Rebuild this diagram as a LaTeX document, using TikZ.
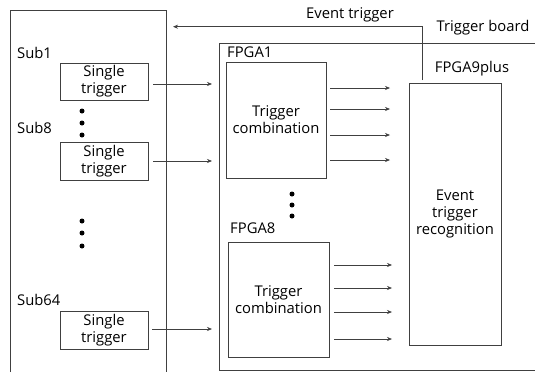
\documentclass[tikz,border=0pt]{standalone}
\usepackage{fontspec}
\setmainfont{Open Sans}
\usetikzlibrary{arrows.meta}
\begin{document}
\begin{tikzpicture}[x=1pt,y=-1pt,
  line/.style={draw=black!75, line width=0.8pt},
  box/.style={line, rectangle, inner sep=0pt, align=center, font=\fontsize{14.8}{17}\selectfont},
  lbl/.style={inner sep=0pt, font=\fontsize{14.8}{17}\selectfont},
  arr/.style={draw=black!75, line width=0.6pt, -{Stealth[length=5pt,width=4pt]}},
  dot/.style={circle, fill=black, inner sep=0pt, minimum size=5pt}]
\useasboundingbox (0,0) rectangle (535,372);
% outer frames
\draw[line] (10,372) -- (10,10) -- (166,10) -- (166,372);
\draw[line] (535,43) -- (219,43) -- (219,370) -- (535,370);
% single triggers
\node[box, minimum width=88pt, minimum height=37pt] (st1) at (104,81.5) {Single\\trigger};
\node[box, minimum width=88pt, minimum height=38pt] (st8) at (104,161) {Single\\trigger};
\node[box, minimum width=88pt, minimum height=38pt] (st64) at (104,330) {Single\\trigger};
\node[lbl, anchor=west] (s1) at (17,53) {Sub1};
\node[lbl, anchor=west] (s8) at (17,128) {Sub8};
\node[lbl, anchor=west] (s64) at (17,300) {Sub64};
\node[dot] (d1) at (82,111) {};
\node[dot] (d2) at (82,123) {};
\node[dot] (d3) at (82,135) {};
\node[dot] (d4) at (82,221) {};
\node[dot] (d5) at (82,233) {};
\node[dot] (d6) at (82,246) {};
% FPGA boxes
\node[box, minimum width=100pt, minimum height=116pt] (tc1) at (276,120) {Trigger\\combination};
\node[box, minimum width=101pt, minimum height=115pt] (tc8) at (278.5,299.5) {Trigger\\combination};
\node[box, minimum width=92pt, minimum height=262pt] (f9) at (455,214) {Event\\trigger\\recognition};
\node[lbl, anchor=west] (fl1) at (227,52) {FPGA1};
\node[lbl, anchor=west] (fl8) at (230,228) {FPGA8};
\node[lbl] (fl9) at (472,69) {FPGA9plus};
\node[dot] (d7) at (292,194) {};
\node[dot] (d8) at (292,205) {};
\node[dot] (d9) at (292,216) {};
\node[lbl] (et) at (350,15) {Event trigger};
\node[lbl] (tb) at (483,28) {Trigger board};
% input arrows
\coordinate (i1) at (212,84);
\coordinate (i8) at (212,161);
\coordinate (i64) at (212,329);
\draw[arr] ([xshift=5pt]st1.east |- i1) -- (i1);
\draw[arr] ([xshift=5pt]st8.east |- i8) -- (i8);
\draw[arr] ([xshift=4pt]st64.east |- i64) -- (i64);
% combination outputs
\foreach \y [count=\i] in {88,109,135,160} {
  \coordinate (a\i) at (390,\y);
  \draw[arr] ([xshift=4pt]tc1.east |- a\i) -- (a\i);
}
\foreach \y [count=\i] in {265,288,312,339} {
  \coordinate (b\i) at (392,\y);
  \draw[arr] ([xshift=5pt]tc8.east |- b\i) -- (b\i);
}
% event trigger feedback
\coordinate (es) at (422,80);
\coordinate (ee) at (173,26.7);
\draw[arr] (es) -- (es |- ee) -- (ee);
\end{tikzpicture}
\end{document}
